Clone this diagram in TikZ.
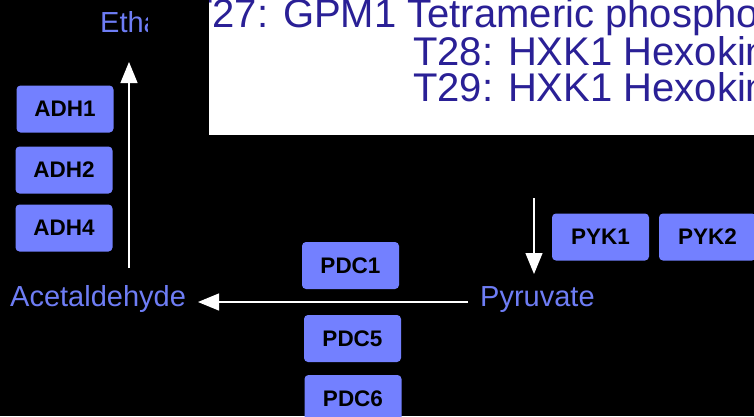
\documentclass[tikz,border=0pt]{standalone}
\usepackage{fontspec}
\setmainfont{Liberation Sans}
\usetikzlibrary{arrows.meta}
\definecolor{metabcol}{RGB}{110,125,245}
\definecolor{enzfill}{RGB}{115,128,255}
\definecolor{tipblue}{RGB}{42,32,150}
\begin{document}
\begin{tikzpicture}[x=1pt,y=-1pt,
  enz/.style={fill=enzfill, rounded corners=4pt, minimum width=97pt, minimum height=47pt, inner sep=0pt, font=\fontsize{22.5}{27}\selectfont\bfseries, text=black},
  metab/.style={text=metabcol, font=\fontsize{29}{34}\selectfont, inner sep=0pt, anchor=base west},
  flow/.style={draw=white, line width=1.2pt, -{Triangle[length=21pt,width=17pt]}},
  tipline/.style={text=tipblue, font=\fontsize{40}{46}\selectfont, inner sep=0pt, anchor=base west}]
\fill[black] (0,0) rectangle (754,416);
\useasboundingbox (0,0) rectangle (754,416);
% Ethanol label (clipped)
\begin{scope}
  \clip (0,0) rectangle (147,60);
  \node[metab] (etha) at (100,32) {Etha};
\end{scope}
% tooltip box
\fill[white] (209,0) rectangle (754,135);
\begin{scope}
  \clip (209,0) rectangle (754,135);
  \node[tipline] (t27) at (188,27) {T27: GPM1 Tetrameric phospho};
  \node[tipline] (t28) at (413,65) {T28: HXK1 Hexokin};
  \node[tipline] (t29) at (413,101) {T29: HXK1 Hexokin};
\end{scope}
% metabolites
\node[metab] (acet) at (10,306) {Acetaldehyde};
\node[metab] (pyr) at (480,306) {Pyruvate};
% enzymes
\node[enz] (adh1) at (65,109) {ADH1};
\node[enz] (adh2) at (64,170) {ADH2};
\node[enz] (adh4) at (64,228) {ADH4};
\node[enz] (pdc1) at (350.5,265.5) {PDC1};
\node[enz] (pdc5) at (352.5,338.5) {PDC5};
\node[enz] (pdc6) at (353,398.5) {PDC6};
\node[enz] (pyk1) at (600.5,237) {PYK1};
\node[enz] (pyk2) at (707.5,237) {PYK2};
% arrows
\coordinate (upS) at (129,268);
\coordinate (upE) at (129,62);
\coordinate (hS) at (468,302);
\coordinate (hE) at (198,302);
\coordinate (dS) at (534,198);
\coordinate (dE) at (534,274);
\draw[flow] (upS) -- (upE);
\draw[flow] (hS) -- (hE);
\draw[flow] (dS) -- (dE);
\end{tikzpicture}
\end{document}
